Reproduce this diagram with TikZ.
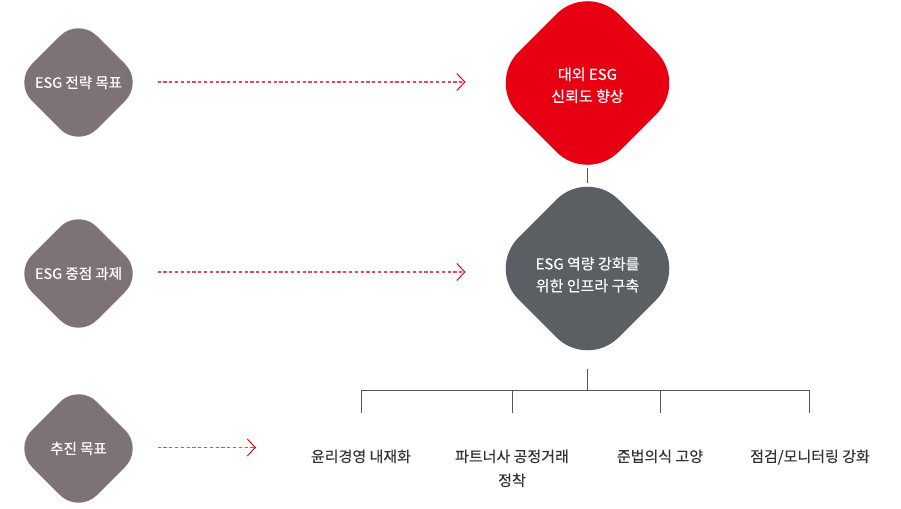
\documentclass[tikz,border=0pt]{standalone}
\usepackage{fontspec}
\setmainfont{Noto Sans CJK KR}[FakeBold=0.35]
\usetikzlibrary{shapes.geometric,arrows.meta,backgrounds}
\definecolor{leftgray}{HTML}{7D7377}
\definecolor{esgred}{HTML}{E60012}
\definecolor{darkslate}{HTML}{5A5F64}
\definecolor{treeline}{HTML}{555555}
\definecolor{dotred}{HTML}{EC4658}
\definecolor{labeltext}{HTML}{333333}
\newcommand{\twolines}[3]{\raisebox{-#1}[\dimexpr\height+#1\relax][\dimexpr\depth+#1\relax]{\begin{tabular}{@{}c@{}}#2\\#3\end{tabular}}}
\tikzset{
  smalldia/.style={diamond, fill=leftgray, minimum width=130pt, minimum height=130pt,
    inner sep=0pt, outer sep=0pt, rounded corners=26pt, text=white,
    font=\fontsize{14.5}{20}\selectfont},
  bigdia/.style={diamond, minimum width=200pt, minimum height=200pt,
    inner sep=0pt, outer sep=0pt, rounded corners=44pt, text=white, align=center,
    font=\fontsize{15}{22}\selectfont},
  dotarrow/.style={draw=dotred, line width=1.1pt, dash pattern=on 3.2pt off 2.6pt,
    -{Straight Barb[length=8pt,width=17pt,line width=1pt,color=esgred]}},
  tree/.style={draw=treeline, line width=1pt},
  goal/.style={text=labeltext, align=center, font=\fontsize{15}{24}\selectfont, anchor=north}
}
\begin{document}
\begin{tikzpicture}[x=1pt,y=-1pt]
\useasboundingbox (0,0) rectangle (901,508);
% left diamonds
\node[smalldia] (s1) at (78.5,82.5) {ESG 전략 목표};
\node[smalldia] (s2) at (78.5,273.5) {ESG 중점 과제};
\node[smalldia] (s3) at (78.5,448.5) {추진 목표};
% center diamonds
\node[bigdia, fill=esgred] (r) at (587.5,83) {\twolines{3.5pt}{대외 ESG}{신뢰도 향상}};
\node[bigdia, fill=darkslate] (g) at (587.5,268.5) {\twolines{7.5pt}{ESG 역량 강화를}{위한 인프라 구축}};
% goals
\node[goal] (t1) at (361,446) {윤리경영 내재화};
\node[goal] (t2) at (512,446) {파트너사 공정거래\\정착};
\node[goal] (t3) at (660,446) {준법의식 고양};
\node[goal] (t4) at (810,446) {점검/모니터링 강화};
% coordinates
\coordinate (hub) at (587.5,390);
\coordinate (c1) at (361.5,390);
\coordinate (c4) at (809.5,390);
\coordinate (b1) at (361.5,413);
\coordinate (b2) at (512.5,413);
\coordinate (b3) at (660.5,413);
\coordinate (b4) at (809.5,413);
\coordinate (e3) at (256,447.5);
\begin{scope}[on background layer]
\draw[tree] (r) -- (g);
\draw[tree] (g) -- (hub);
\end{scope}
\draw[tree] (b1) -- (c1) -- (c4) -- (b4);
\draw[tree] (b2) -- (b2 |- c1);
\draw[tree] (b3) -- (b3 |- c1);
% dotted arrows
\draw[dotarrow] ([xshift=14pt,yshift=0.5pt]s1.east) -- ([xshift=-22pt,yshift=1pt]r.west);
\draw[dotarrow] ([xshift=14pt,yshift=1.5pt]s2.east) -- ([xshift=-22pt,yshift=-3.5pt]g.west);
\draw[dotarrow] ([xshift=14pt,yshift=1pt]s3.east) -- (e3);
\end{tikzpicture}
\end{document}
